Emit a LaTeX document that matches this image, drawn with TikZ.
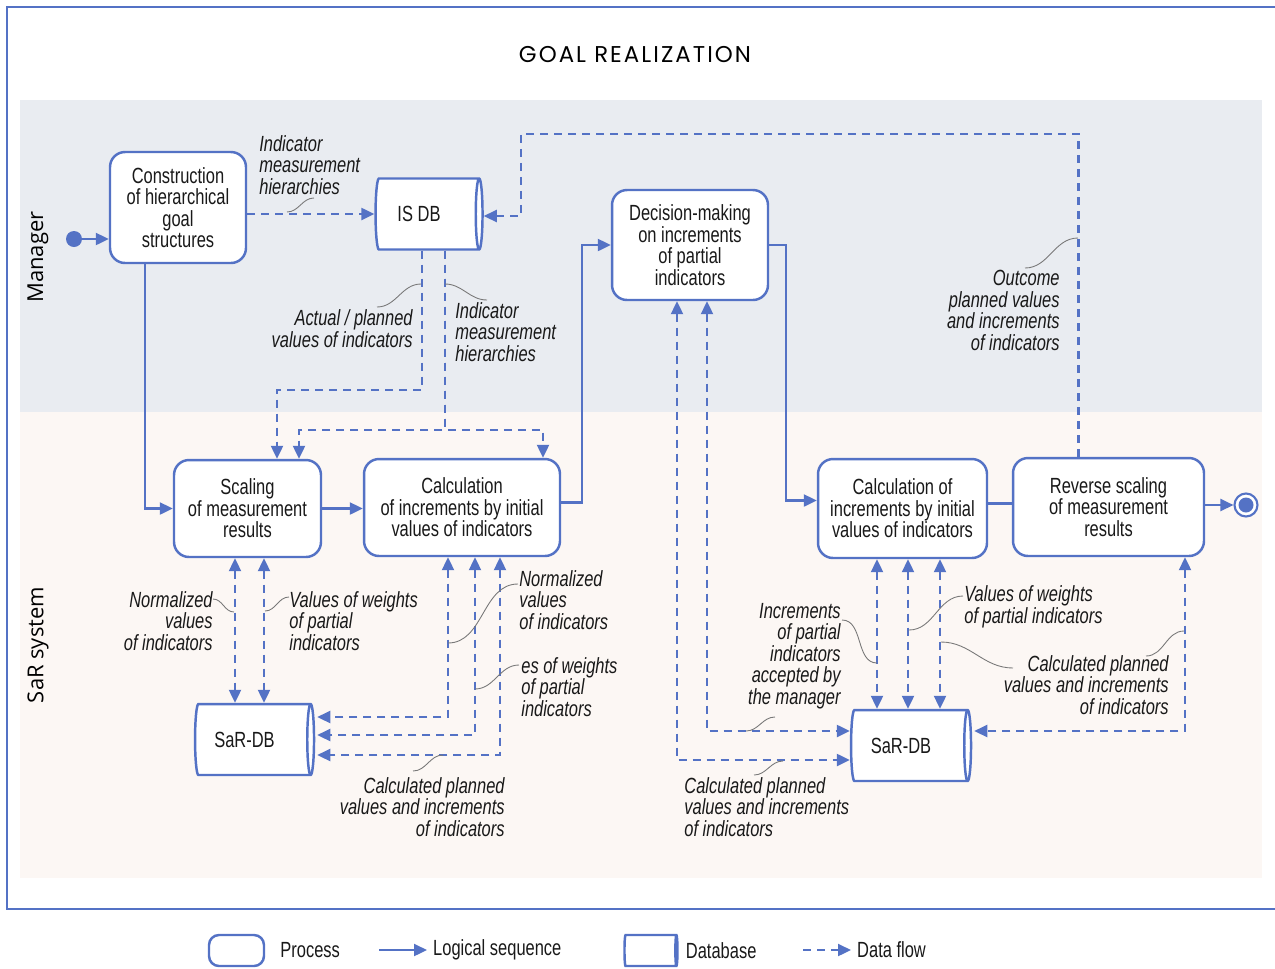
\documentclass[tikz,border=0pt]{standalone}
\usepackage{fontspec}
\setmainfont[FakeStretch=0.75]{Liberation Sans}
\newfontfamily\titlefont[LetterSpace=9]{Poppins}
\newfontfamily\lanefont{Open Sans}
\usetikzlibrary{arrows.meta, positioning, shapes.geometric, calc}
\definecolor{sblue}{RGB}{84,114,197}
\definecolor{mgrbg}{RGB}{233,236,241}
\definecolor{sarbg}{RGB}{252,247,244}
\definecolor{leadgray}{RGB}{120,120,120}
\newcommand{\dbgap}{\rule{0.28cm}{0pt}}

\begin{document}
\begin{tikzpicture}[
  x=0.02cm, y=-0.02cm,
  txt/.style={font=\fontsize{12.5}{12.2}\selectfont, text=black!90},
  proc/.style={txt, draw=sblue, line width=1.4pt, fill=white, rounded corners=0.3cm, align=center, inner sep=2pt},
  db/.style={txt, cylinder, draw=sblue, line width=1.4pt, fill=white, aspect=0.3, inner sep=2pt},
  note/.style={font=\fontsize{12.5}{12.2}\selectfont\itshape, text=black!90, inner sep=0pt},
  flow/.style={draw=sblue, line width=1.3pt, -{Triangle[length=2.6mm, width=2.4mm]}},
  data/.style={flow, dash pattern=on 1.6mm off 1.2mm},
  both/.style={data, {Triangle[length=2.6mm, width=2.4mm]}-{Triangle[length=2.6mm, width=2.4mm]}},
  lead/.style={draw=leadgray, line width=0.5pt},
]
  \useasboundingbox (0,0) rectangle (1275,968);

  % swimlanes and frame
  \fill[mgrbg] (20,100) rectangle (1262,412);
  \fill[sarbg] (20,412) rectangle (1262,878);
  \draw[sblue, line width=1.5pt] (1275,7) -- (7,7) -- (7,909) -- (1275,909);
  \node[font=\titlefont\fontsize{13}{15}\selectfont] (title) at (635,55) {GOAL REALIZATION};
  \node[font=\lanefont\fontsize{12.5}{15}\selectfont, rotate=90] (lanemgr) at (38,257) {Manager};
  \node[font=\lanefont\fontsize{12.5}{15}\selectfont, rotate=90] (lanesar) at (38,645) {SaR system};

  % processes and databases
  \node[circle, fill=sblue, inner sep=0pt, minimum size=0.32cm] (start) at (74,239) {};
  \node[proc, minimum width=2.72cm, minimum height=2.22cm] (goal) at (178,207.5) {Construction\\of hierarchical\\goal\\structures};
  \node[db, minimum height=2.14cm, minimum width=1.42cm] (isdb) at (426,214) {IS DB\dbgap};
  \node[proc, minimum width=3.12cm, minimum height=2.2cm] (decide) at (690,245) {Decision-making\\on increments\\of partial\\indicators};
  \node[proc, minimum width=2.94cm, minimum height=1.94cm] (scale) at (247.5,508.5) {Scaling\\of measurement\\results};
  \node[proc, minimum width=3.92cm, minimum height=1.94cm] (calcA) at (462,507.5) {Calculation\\of increments by initial\\values of indicators};
  \node[proc, minimum width=3.38cm, minimum height=1.98cm] (calcB) at (902.5,508.5) {Calculation of\\increments by initial\\values of indicators};
  \node[proc, minimum width=3.82cm, minimum height=1.96cm] (rev) at (1108.5,507) {Reverse scaling\\of measurement\\results};
  \node[db, minimum height=2.38cm, minimum width=1.42cm] (sardbA) at (251.5,739.5) {SaR-DB\dbgap};
  \node[db, minimum height=2.4cm, minimum width=1.42cm] (sardbB) at (908,745.5) {SaR-DB\dbgap};
  \node[circle, draw=sblue, fill=white, line width=1.2pt, inner sep=0pt, minimum size=0.46cm] (stop) at (1246,505) {};
  \fill[sblue] (stop.center) circle[radius=0.15cm];

  % logical sequence
  \draw[flow] (start) -- (goal.west |- start);
  \draw[flow] ($(goal.south)+(-33,0)$) |- (scale.west);
  \draw[flow] (scale.east) -- (calcA.west |- scale.east);
  \draw[flow] ($(calcA.east)+(0,-5)$) -- ++(21,0) |- (decide.west);
  \draw[flow] (decide.east) -- ++(17,0) |- ($(calcB.west)+(0,-8)$);
  \draw[sblue, line width=1.3pt] ($(calcB.east)+(0,-5)$) -- (rev.west |- {$(calcB.east)+(0,-5)$});
  \draw[flow] (rev.east |- stop) -- (stop);

  % data flows
  \draw[data] (goal.east |- isdb.west) -- (isdb.west);
  \draw[data] ($(rev.north)+(-30,0)$) -- ++(0,-323) -| ($(isdb.east)+(37,2)$) -- ($(isdb.east)+(0,2)$);
  \draw[data] ($(isdb.south)+(-4,0)$) -- ++(0,139) -| ($(scale.north)+(29.5,0)$);
  \draw[data] ($(isdb.south)+(19,0)$) -- ++(0,179) -| ($(scale.north)+(51.5,0)$);
  \draw[data] ($(isdb.south)+(19,0)$) -- ++(0,179) -| ($(calcA.north)+(81,0)$);
  \draw[both] ($(scale.south)+(-12.5,0)$) -- ({$(scale.south)+(-12.5,0)$} |- sardbA.north);
  \draw[both] ($(scale.south)+(16.5,0)$) -- ({$(scale.south)+(16.5,0)$} |- sardbA.north);
  \draw[both] ($(calcA.south)+(-14,0)$) |- ($(sardbA.east)+(2,-22.5)$);
  \draw[both] ($(calcA.south)+(13,0)$) |- ($(sardbA.east)+(2,-4.5)$);
  \draw[both] ($(calcA.south)+(38,0)$) |- ($(sardbA.east)+(2,15.5)$);
  \draw[both] ($(calcB.south)+(-25.5,0)$) -- ({$(calcB.south)+(-25.5,0)$} |- sardbB.north);
  \draw[both] ($(calcB.south)+(5.5,0)$) -- ({$(calcB.south)+(5.5,0)$} |- sardbB.north);
  \draw[both] ($(calcB.south)+(37.5,0)$) -- ({$(calcB.south)+(37.5,0)$} |- sardbB.north);
  \draw[both] ($(decide.south)+(17,0)$) |- ($(sardbB.west)+(0,-14.5)$);
  \draw[both] ($(decide.south)+(-13,0)$) |- ($(sardbB.west)+(0,14.5)$);
  \draw[both] ($(rev.south)+(76.5,0)$) |- ($(sardbB.east)+(2,-14.5)$);

  % labels of the flows
  \node[note, anchor=base west, align=left] (lbA) at (259,194) {Indicator\\measurement\\hierarchies};
  \node[note, anchor=base east, align=right] (lbB) at (413,347) {Actual / planned\\values of indicators};
  \node[note, anchor=base west, align=left] (lbC) at (455,361) {Indicator\\measurement\\hierarchies};
  \node[note, anchor=base east, align=right] (lbD) at (1060,350) {Outcome\\planned values\\and increments\\of indicators};
  \node[note, anchor=base east, align=right] (lbE) at (213,650) {Normalized\\values\\of indicators};
  \node[note, anchor=base west, align=left] (lbF) at (289,650) {Values of weights\\of partial\\indicators};
  \node[note, anchor=base west, align=left] (lbG) at (519,629) {Normalized\\values\\of indicators};
  \node[note, anchor=base west, align=left] (lbH) at (521,716) {es of weights\\of partial\\indicators};
  \node[note, anchor=base east, align=right] (lbI) at (505,836) {Calculated planned\\values and increments\\of indicators};
  \node[note, anchor=base east, align=right] (lbJ) at (841,704) {Increments\\of partial\\indicators\\accepted by\\the manager};
  \node[note, anchor=base west, align=left] (lbK) at (964,623) {Values of weights\\of partial indicators};
  \node[note, anchor=base east, align=right] (lbL) at (1169,714) {Calculated planned\\values and increments\\of indicators};
  \node[note, anchor=base west, align=left] (lbM) at (684,836) {Calculated planned\\values and increments\\of indicators};

  % leader lines
  \foreach \n/\p/\q in {a/{287,212}/{314,198}, b/{377,307}/{421,284}, c/{445,284}/{487,300},
      d/{1025,268}/{1078,238}, e/{213,599}/{234,612}, f/{265,611}/{289,597}, g/{448,643}/{518,584},
      h/{475,689}/{519,665}, i/{413,771}/{443,755}, j/{842,620}/{877,663}, k/{746,731}/{775,717},
      l/{909,630}/{963,596}, m/{941,642}/{1013,668}, n/{1146,656}/{1184,631}, o/{754,775}/{783,761}} {
    \coordinate (ldL\n) at (\p);
    \coordinate (ldR\n) at (\q);
    \draw[lead] (ldL\n) to[out=0, in=180] (ldR\n);
  }

  % legend
  \node[proc, minimum width=1.1cm, minimum height=0.62cm, rounded corners=0.2cm] (lgproc) at (236.5,950.5) {};
  \node[txt, right=0.18cm of lgproc] (lgproct) {Process};
  \coordinate (lgseqA) at (379,950);
  \node[txt, anchor=west] (lgseq) at (427,950) {Logical sequence};
  \draw[flow] (lgseqA) -- (lgseq.west);
  \node[db, minimum height=1.06cm, minimum width=0.62cm] (lgdb) at (649.5,950.5) {};
  \node[txt, right=0.02cm of lgdb] (lgdbt) {Database};
  \coordinate (lgdataA) at (803,950);
  \node[txt, anchor=west] (lgdata) at (851,950) {Data flow};
  \draw[data] (lgdataA) -- (lgdata.west);
\end{tikzpicture}
\end{document}
